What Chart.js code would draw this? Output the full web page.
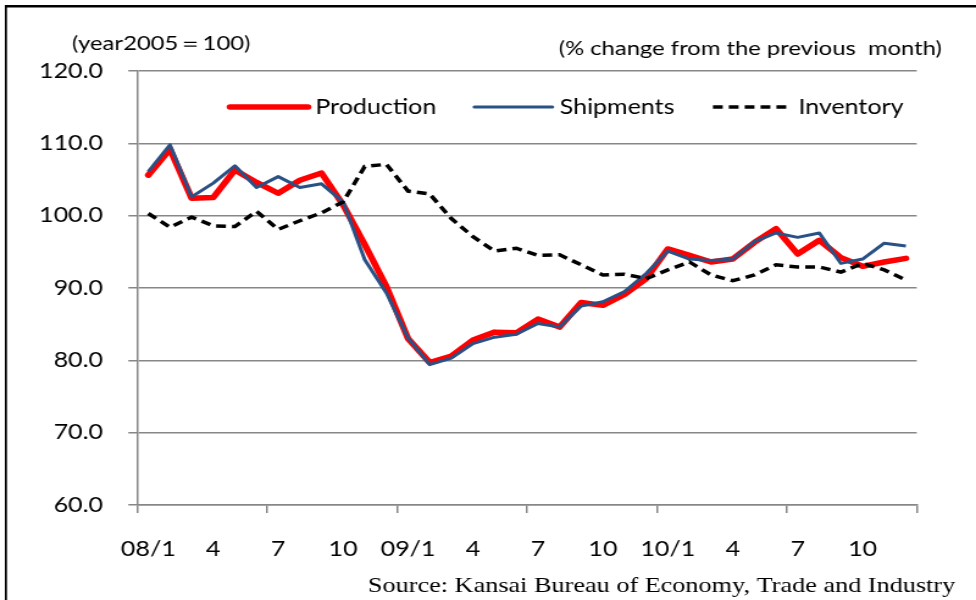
<!DOCTYPE html>
<html>
<head>
<meta charset="utf-8">
<script src="https://cdn.jsdelivr.net/npm/chart.js@4"></script>
<style>
  html, body { margin: 0; padding: 0; background: #fff; }
  #chart { display: block; }
</style>
</head>
<body>
<!-- the source picture is stretched sideways, so the canvas is drawn narrow and widened by css -->
<canvas id="chart" width="800" height="600" style="width:976px;height:600px"></canvas>
<script>
const months = [
  '08/1', '2', '3', '4', '5', '6', '7', '8', '9', '10', '11', '12',
  '09/1', '2', '3', '4', '5', '6', '7', '8', '9', '10', '11', '12',
  '10/1', '2', '3', '4', '5', '6', '7', '8', '9', '10', '11', '12'
];

const production = [
  105.6, 109.2, 102.4, 102.5, 106.3, 104.6, 103.1, 104.9, 105.9, 101.5, 96.0, 90.2,
  83.0, 79.7, 80.6, 82.8, 83.9, 83.8, 85.7, 84.6, 88.0, 87.6, 89.1, 91.3,
  95.4, 94.5, 93.6, 94.0, 96.3, 98.2, 94.7, 96.6, 94.2, 93.0, 93.6, 94.1
];

const shipments = [
  106.1, 109.8, 102.6, 104.5, 106.9, 103.9, 105.4, 103.9, 104.4, 101.9, 93.9, 89.3,
  83.1, 79.4, 80.3, 82.3, 83.2, 83.6, 85.1, 84.6, 87.5, 88.1, 89.5, 92.0,
  95.1, 94.0, 93.8, 94.0, 96.4, 97.6, 97.0, 97.6, 93.4, 94.0, 96.2, 95.8
];

const inventory = [
  100.3, 98.4, 99.8, 98.6, 98.5, 100.6, 98.1, 99.3, 100.4, 101.9, 106.8, 107.1,
  103.4, 103.0, 99.6, 97.1, 95.1, 95.5, 94.5, 94.6, 93.2, 91.8, 91.9, 91.3,
  92.5, 93.6, 91.8, 91.0, 91.8, 93.2, 92.9, 92.9, 92.2, 93.4, 92.5, 91.1
];

const yMin = 60;
const yMax = 120;
const yStep = 10;

const axisGray = '#878787';
const font = 'Lato';

// white page, frame lines, notes, legend and source line
const decorations = {
  id: 'decorations',
  beforeDraw(chart) {
    const ctx = chart.ctx;
    ctx.save();
    ctx.fillStyle = '#fff';
    ctx.fillRect(0, 0, chart.width, chart.height);
    ctx.fillStyle = '#000';
    ctx.fillRect(4, 5, 1.7, chart.height - 5);
    ctx.fillRect(4, 5, chart.width - 4, 2.5);
    ctx.restore();
  },
  afterDraw(chart) {
    const ctx = chart.ctx;
    ctx.save();
    ctx.fillStyle = '#000';
    ctx.textBaseline = 'middle';

    ctx.font = `19.5px ${font}`;
    ctx.textAlign = 'left';
    ctx.fillText('(year2005\uFF1D100)', 59, 44);
    ctx.textAlign = 'right';
    ctx.fillText('(% change from the previous  month)', 772, 49);

    // legend inside the plot
    const legendX = [188.5, 388.8, 584.4];
    const legendY = 107;
    ctx.font = `20.5px ${font}`;
    ctx.textAlign = 'left';
    chart.data.datasets.forEach((ds, i) => {
      const x0 = legendX[i];
      ctx.save();
      ctx.strokeStyle = ds.borderColor;
      ctx.lineWidth = ds.borderWidth;
      ctx.lineCap = ds.borderDash ? 'butt' : 'round';
      ctx.setLineDash(ds.borderDash || []);
      ctx.beginPath();
      ctx.moveTo(x0, legendY);
      ctx.lineTo(x0 + 64, legendY);
      ctx.stroke();
      ctx.restore();
      ctx.fillText(ds.label, x0 + 70, legendY);
    });

    ctx.font = '21.5px "Liberation Serif"';
    ctx.textAlign = 'right';
    ctx.textBaseline = 'alphabetic';
    ctx.fillText('Source: Kansai Bureau of Economy, Trade and Industry', 783, 592);
    ctx.restore();
  }
};

new Chart(document.getElementById('chart'), {
  type: 'line',
  data: {
    labels: months,
    datasets: [
      {
        label: 'Production',
        data: production,
        borderColor: '#ff0000',
        borderWidth: 5.5,
        borderCapStyle: 'round',
        borderJoinStyle: 'round',
        pointRadius: 0,
        tension: 0,
        order: 2
      },
      {
        label: 'Shipments',
        data: shipments,
        borderColor: '#2a5185',
        borderWidth: 3,
        borderJoinStyle: 'round',
        pointRadius: 0,
        tension: 0,
        order: 1
      },
      {
        label: 'Inventory',
        data: inventory,
        borderColor: '#000000',
        borderWidth: 3.5,
        borderDash: [8, 5],
        pointRadius: 0,
        tension: 0,
        order: 0
      }
    ]
  },
  options: {
    responsive: false,
    animation: false,
    events: [],
    layout: {
      padding: { left: 0, top: 71, right: 48.6, bottom: 0 }
    },
    plugins: {
      legend: { display: false },
      title: { display: false },
      tooltip: { enabled: false }
    },
    scales: {
      x: {
        type: 'category',
        offset: true,
        afterFit: (scale) => { scale.height = 95; },
        border: { display: true, color: axisGray, width: 1.5 },
        grid: {
          offset: true,
          drawOnChartArea: false,
          drawTicks: true,
          tickLength: 8,
          lineWidth: 1.5,
          color: (c) => (c.index === undefined || c.index % 6 === 0) ? axisGray : 'rgba(0,0,0,0)'
        },
        ticks: {
          autoSkip: false,
          maxRotation: 0,
          minRotation: 0,
          padding: 24,
          color: '#000',
          font: { family: font, size: 20.5 },
          callback: (v, i) => i % 3 === 0 ? months[i] : ''
        }
      },
      y: {
        min: yMin,
        max: yMax,
        afterFit: (scale) => { scale.width = 112.7; },
        border: { display: true, color: axisGray, width: 1.5 },
        grid: {
          color: axisGray,
          lineWidth: 1.5,
          drawTicks: true,
          tickLength: 7.5
        },
        ticks: {
          stepSize: yStep,
          padding: 20.8,
          color: '#000',
          font: { family: font, size: 20.5 },
          callback: (v) => v.toFixed(1)
        }
      }
    }
  },
  plugins: [decorations]
});
</script>
</body>
</html>
